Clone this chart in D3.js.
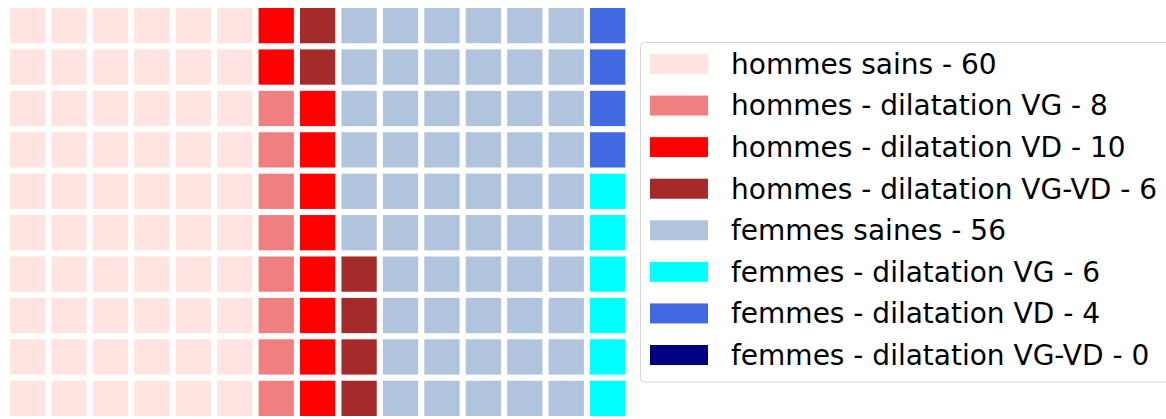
<!DOCTYPE html>
<html><head><meta charset="utf-8">
<script src="https://cdn.jsdelivr.net/npm/d3@7"></script>
<style>html,body{margin:0;padding:0;background:#fff;overflow:hidden}</style>
</head><body>
<svg id="chart" width="1166" height="419"></svg>
<script>
const categories = ["hommes sains","hommes - dilatation VG","hommes - dilatation VD","hommes - dilatation VG-VD","femmes saines","femmes - dilatation VG","femmes - dilatation VD","femmes - dilatation VG-VD"];
const values = [60, 8, 10, 6, 56, 6, 4, 0];
const colors = ["#FFE4E1","#F08080","#FF0000","#A52A2A","#B0C4DE","#00FFFF","#4169E1","#000080"];
const nRows = 10, nCols = 15;

const svg = d3.select("#chart");
const cells = [];
values.forEach((v, k) => { for (let j = 0; j < v; j++) cells.push(k); });

const x = d3.scaleBand().domain(d3.range(nCols)).range([6.93, 628.4]).paddingInner(0.148).paddingOuter(0.074);
const y = d3.scaleBand().domain(d3.range(nRows)).range([4.93, 419.07]).paddingInner(0.148).paddingOuter(0.074);

svg.append("g").selectAll("rect").data(cells).join("rect")
  .attr("x", (d, i) => x(Math.floor(i / nRows)))
  .attr("y", (d, i) => y(nRows - 1 - (i % nRows)))
  .attr("width", x.bandwidth())
  .attr("height", y.bandwidth())
  .attr("fill", d => colors[d]);

// legend
const lg = svg.append("g");
lg.append("rect").attr("x", 640.5).attr("y", 42.5).attr("width", 540).attr("height", 339.5)
  .attr("rx", 4).attr("fill", "#fff").attr("stroke", "#d6d6d6").attr("stroke-width", 1);
const ly = d3.scalePoint().domain(d3.range(categories.length)).range([64, 355]);
const items = lg.selectAll("g.item").data(categories).join("g").attr("class", "item")
  .attr("transform", (d, i) => `translate(0,${ly(i)})`);
items.append("rect").attr("x", 650).attr("y", -10).attr("width", 58).attr("height", 20)
  .attr("fill", (d, i) => colors[i]);
items.append("text").attr("x", 731).attr("y", 0).attr("dy", "0.35em")
  .attr("font-family", "DejaVu Sans").attr("font-size", 28).attr("fill", "#000")
  .text((d, i) => `${d} - ${values[i]}`);
</script>
</body></html>
